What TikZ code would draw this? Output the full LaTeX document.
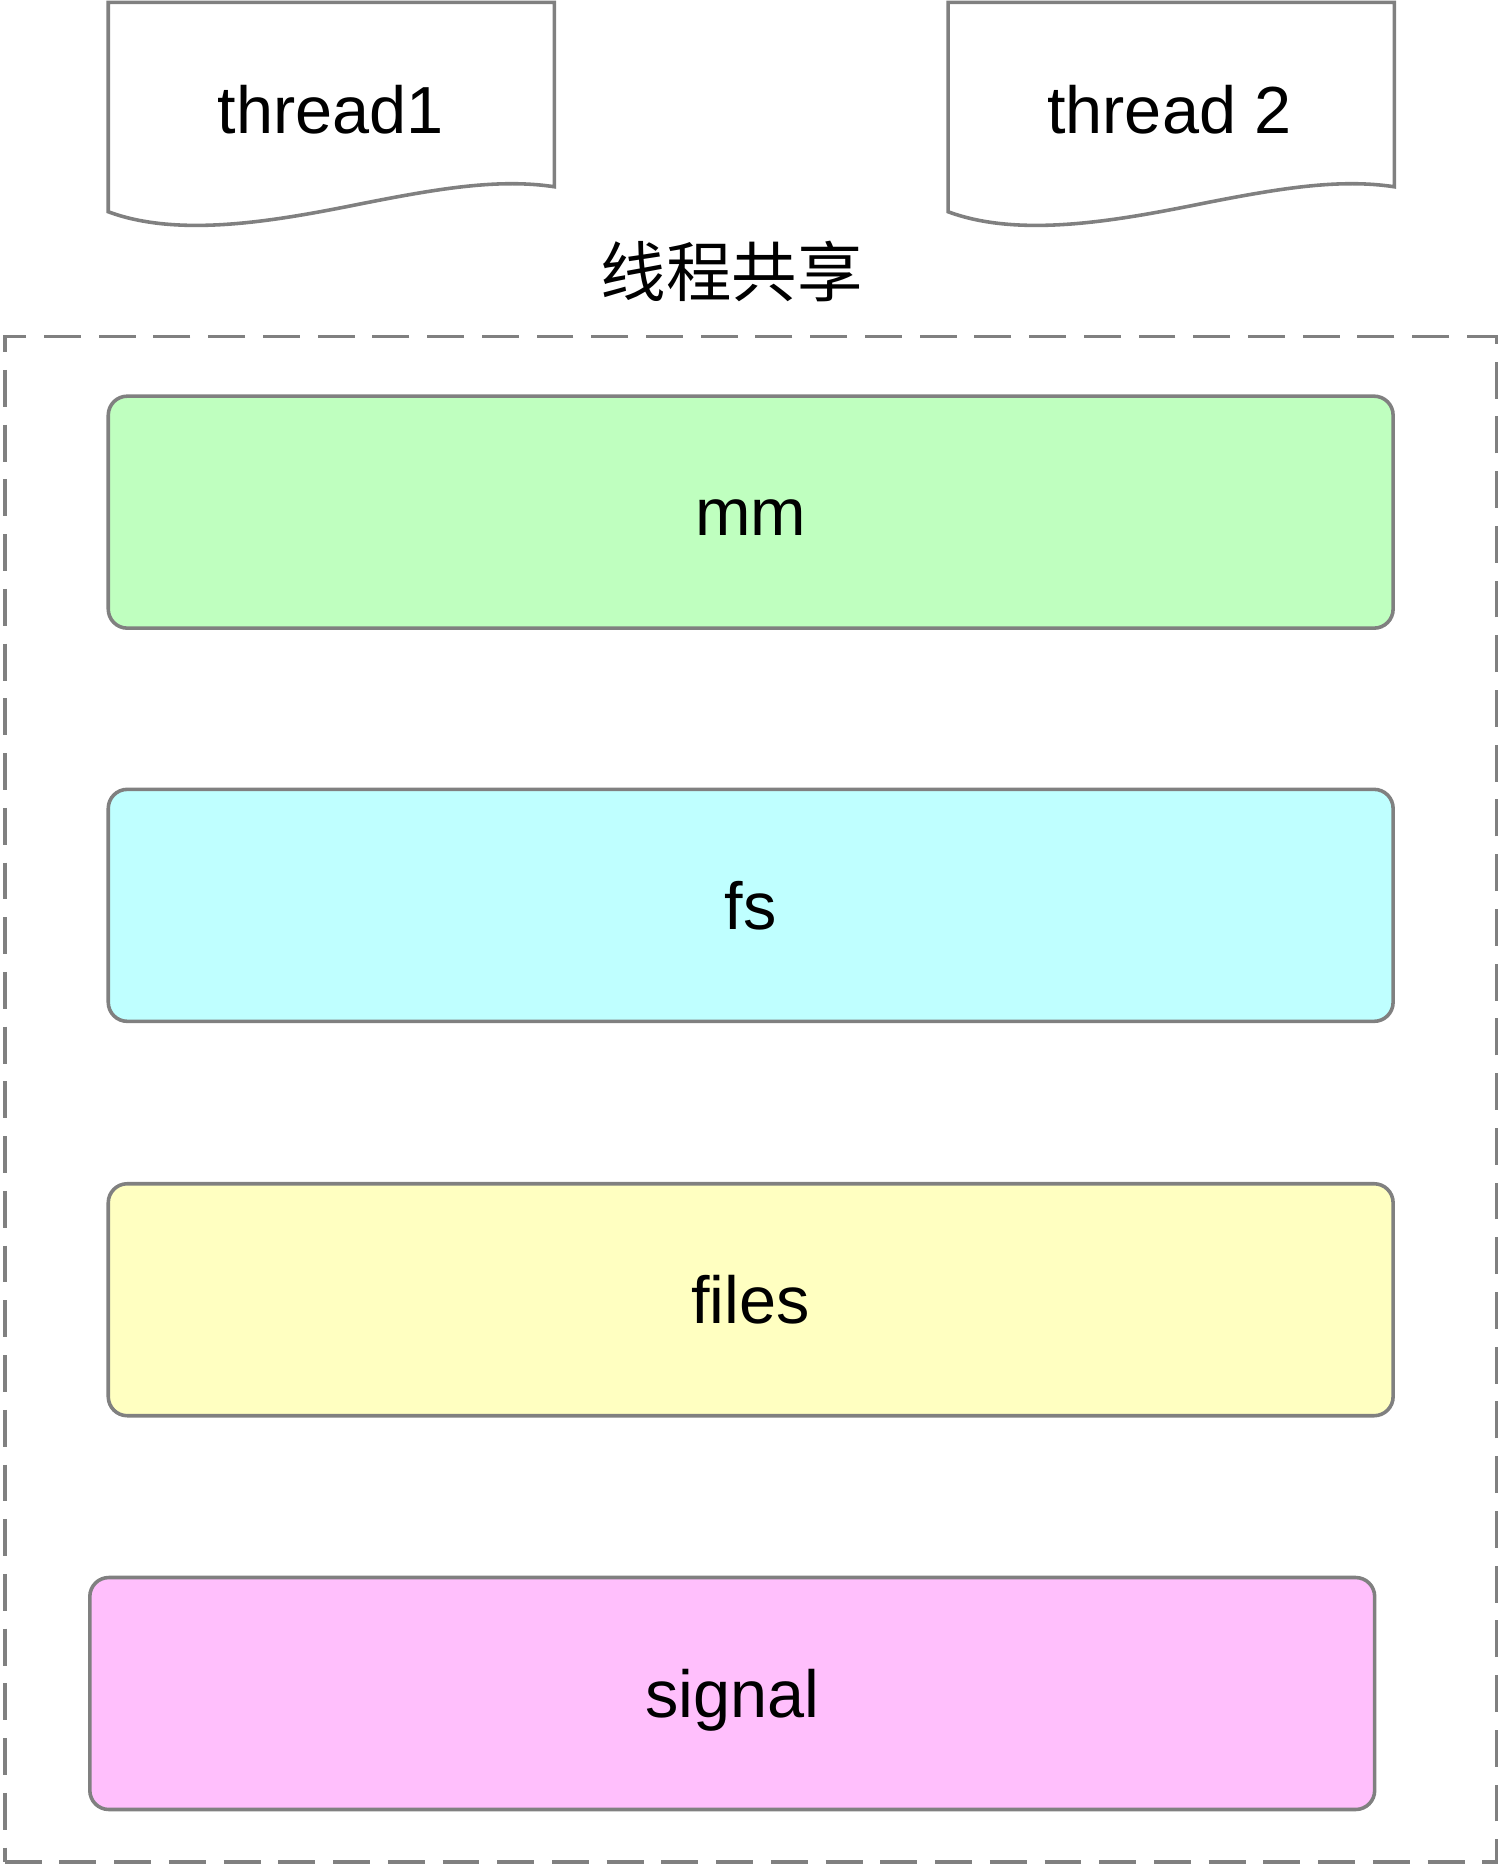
\documentclass[tikz,border=0pt]{standalone}
\usepackage{fontspec}
\setmainfont{Liberation Sans}
\newfontfamily\cjk{Noto Sans CJK SC}
\definecolor{edgegray}{RGB}{128,128,128}
\definecolor{mmfill}{RGB}{191,255,191}
\definecolor{fsfill}{RGB}{191,255,255}
\definecolor{filesfill}{RGB}{255,255,193}
\definecolor{sigfill}{RGB}{255,191,252}
\begin{document}
\begin{tikzpicture}[x=1pt,y=-1pt,
  box/.style={draw=edgegray, line width=3pt, rounded corners=16pt,
    minimum width=1080pt, minimum height=195pt, inner sep=0pt,
    text height=50pt, text depth=10pt,
    font=\fontsize{56}{60}\selectfont},
  doc/.style={draw=edgegray, line width=3pt, fill=white},
  lbl/.style={font=\fontsize{56}{60}\selectfont, inner sep=0pt, anchor=base},
  frame/.style={draw=edgegray, line width=3pt, dash pattern=on 31pt off 15pt}
]
\useasboundingbox (0,0) rectangle (1260,1568.5);
% thread documents
\draw[doc] (91,2) -- (466,2) -- (466,157)
  .. controls (420,150) and (370,158) .. (300,172)
  .. controls (230,186) and (150,200) .. (91,178) -- cycle;
\node[lbl] (t1) at (278,112) {thread1};
\draw[doc] (797,2) -- (1172,2) -- (1172,157)
  .. controls (1126,150) and (1076,158) .. (1006,172)
  .. controls (936,186) and (856,200) .. (797,178) -- cycle;
\node[lbl] (t2) at (983,112) {thread 2};
% title
\node[font=\cjk\fontsize{55}{60}\selectfont, inner sep=0pt] (title) at (615,228) {线程共享};
% dashed frame
\node[frame, minimum width=1254pt, minimum height=1282pt, inner sep=0pt] (shared) at (631,924) {};
% boxes
\node[box, fill=mmfill] (mm) at (631,430.5) {mm};
\node[box, fill=fsfill] (fs) at (631,761) {fs};
\node[box, fill=filesfill] (files) at (631,1092.5) {files};
\node[box, fill=sigfill] (signal) at (615.5,1423.5) {signal};
\end{tikzpicture}
\end{document}
